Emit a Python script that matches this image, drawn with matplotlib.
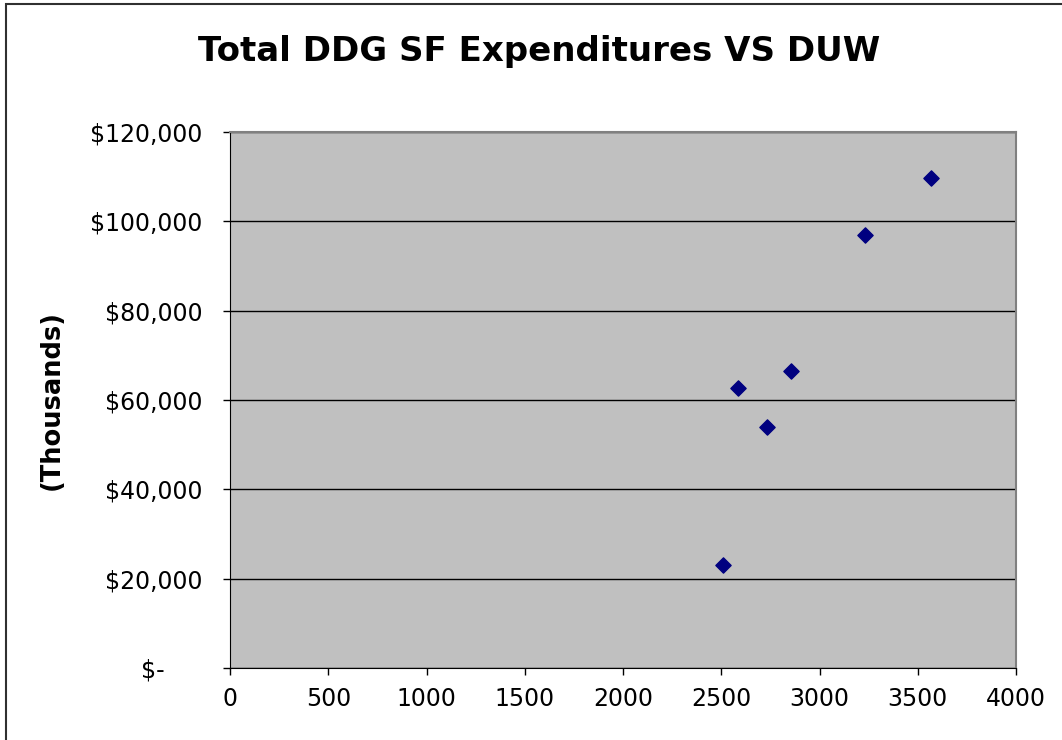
import matplotlib.pyplot as plt
from matplotlib.patches import Rectangle
from matplotlib.ticker import FuncFormatter

# DUW vs total expenditures (thousands of dollars)
duw = [2507, 2587, 2731, 2853, 3233, 3566]
expenditures = [23000, 62700, 53900, 66600, 97000, 109800]

x_ticks = [0, 500, 1000, 1500, 2000, 2500, 3000, 3500, 4000]
y_ticks = [0, 20000, 40000, 60000, 80000, 100000, 120000]

plt.rcParams['font.family'] = ['DejaVu Sans']

fig = plt.figure(figsize=(10.62, 7.4), dpi=100)
ax = fig.add_axes([0.2166, 0.0973, 0.7401, 0.7243])

# outer chart border
fig.patches.append(Rectangle((6 / 1062, -0.1), 1.2, 1.1 - 4 / 740,
                             transform=fig.transFigure, fill=False,
                             edgecolor='#303030', linewidth=1.5, clip_on=False))

ax.set_facecolor('#C0C0C0')
ax.scatter(duw, expenditures, marker='D', s=60, color='#000080', zorder=3)

ax.set_xlim(0, 4000)
ax.set_ylim(0, 120000)
ax.set_xticks(x_ticks)
ax.set_yticks(y_ticks)


def money(v, pos):
    if v == 0:
        return '$-     '
    return '${:,.0f}'.format(v)


ax.yaxis.set_major_formatter(FuncFormatter(money))
ax.grid(axis='y', color='black', linewidth=1)
ax.set_axisbelow(True)

ax.tick_params(direction='out', length=5, width=1, labelsize=17, pad=15)
ax.tick_params(axis='x', pad=9)

for side in ['left', 'bottom']:
    ax.spines[side].set_color('black')
for side in ['top', 'right']:
    ax.spines[side].set_color('#808080')
    ax.spines[side].set_linewidth(1.5)

ax.set_ylabel('(Thousands)', fontsize=18.5, fontweight='bold', labelpad=18)
fig.text(0.508, 0.93, 'Total DDG SF Expenditures VS DUW', ha='center', va='center',
         fontsize=24.5, fontweight='bold')

fig.savefig('out.png', dpi=100)
